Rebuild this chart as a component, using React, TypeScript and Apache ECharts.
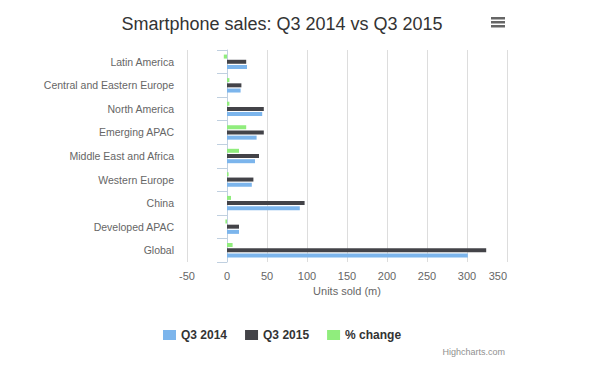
import React, { useEffect, useRef } from "react";
import * as echarts from "echarts";

const categories = [
  "Latin America",
  "Central and Eastern Europe",
  "North America",
  "Emerging APAC",
  "Middle East and Africa",
  "Western Europe",
  "China",
  "Developed APAC",
  "Global",
];
const q3_2014 = [25, 17, 44, 37, 35, 31, 91, 15, 301];
const q3_2015 = [24, 18, 46, 46, 40, 33, 97, 15, 324];
const pctChange = [-4, 3, 3, 24, 15, 2, 5, -2, 7];
const xTicks = { min: -50, max: 350, interval: 50 };

const FONT = "'Liberation Sans', Arial, sans-serif";

export default function App() {
  const ref = useRef<HTMLDivElement>(null);
  useEffect(() => {
    if (!ref.current) return;
    const chart = echarts.init(ref.current, undefined, { renderer: "svg" });
    chart.setOption({
      animation: false,
      backgroundColor: "#ffffff",
      textStyle: { fontFamily: FONT },
      title: {
        text: "Smartphone sales: Q3 2014 vs Q3 2015",
        left: 277,
        textAlign: "center",
        top: 10,
        textStyle: { fontFamily: FONT, fontSize: 18, fontWeight: "normal", color: "#333333" },
      },
      legend: {
        left: 158,
        top: 324,
        itemWidth: 13,
        itemHeight: 10,
        itemGap: 18,
        icon: "rect",
        textStyle: { fontFamily: FONT, fontSize: 12, fontWeight: "bold", color: "#333333" },
        data: ["Q3 2014", "Q3 2015", "% change"],
      },
      grid: { left: 187, right: 95, top: 50, bottom: 113, containLabel: false },
      xAxis: {
        type: "value",
        min: xTicks.min,
        max: xTicks.max,
        interval: xTicks.interval,
        name: "Units sold (m)",
        nameLocation: "middle",
        nameGap: 21,
        nameTextStyle: { fontFamily: FONT, fontSize: 11, color: "#666666" },
        axisLine: { show: false },
        axisTick: { show: false },
        axisLabel: { fontFamily: FONT, fontSize: 11, color: "#666666", margin: 8, alignMaxLabel: "right" },
        splitLine: { show: true, lineStyle: { color: "#dddddd", width: 1 } },
      },
      yAxis: {
        type: "category",
        inverse: true,
        data: categories,
        axisLine: { show: true, lineStyle: { color: "#C0D0E0" } },
        axisTick: { show: true, length: 10, lineStyle: { color: "#C0D0E0" } },
        axisLabel: { fontFamily: FONT, fontSize: 10.5, color: "#666666", margin: 13 },
        splitLine: { show: false },
      },
      series: [
        {
          name: "% change",
          type: "bar",
          data: pctChange,
          itemStyle: { color: "#90ed7d" },
          barWidth: 4,
          barGap: "30%",
        },
        {
          name: "Q3 2015",
          type: "bar",
          data: q3_2015,
          itemStyle: { color: "#434348" },
          barWidth: 4,
          barGap: "30%",
        },
        {
          name: "Q3 2014",
          type: "bar",
          data: q3_2014,
          itemStyle: { color: "#7cb5ec" },
          barWidth: 4,
          barGap: "30%",
        },
      ],
      graphic: [
        { type: "rect", shape: { x: 491, y: 17, width: 14, height: 2.5 }, style: { fill: "#666666" } },
        { type: "rect", shape: { x: 491, y: 21, width: 14, height: 2.5 }, style: { fill: "#666666" } },
        { type: "rect", shape: { x: 491, y: 25, width: 14, height: 2.5 }, style: { fill: "#666666" } },
        {
          type: "text",
          x: 505,
          y: 352,
          style: {
            text: "Highcharts.com",
            fontFamily: FONT,
            fontSize: 9,
            fill: "#909090",
            align: "right",
            verticalAlign: "middle",
          },
        },
      ],
    });
    return () => chart.dispose();
  }, []);
  return <div ref={ref} style={{ width: 602, height: 375, margin: -8 }} />;
}
